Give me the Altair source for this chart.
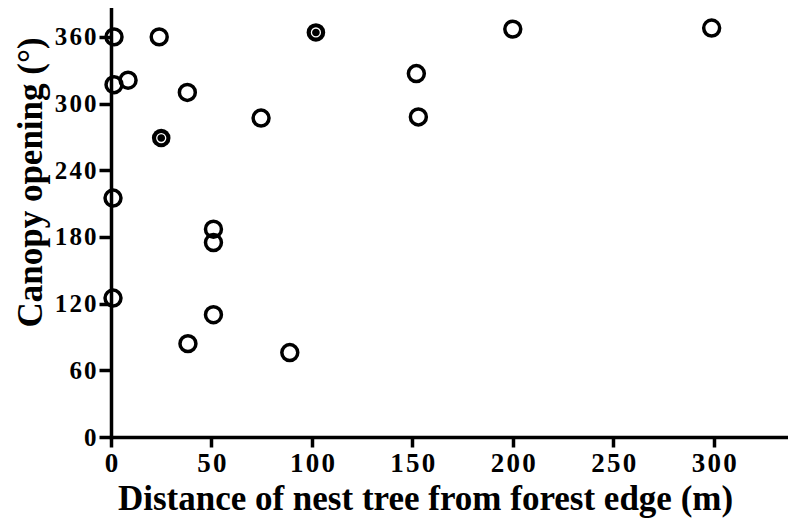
import altair as alt
import pandas as pd

# Data
dist = [1.5, 24, 1.5, 8.5, 38, 74.7, 152, 153, 200, 299, 1, 51, 51, 1, 51, 38.3, 89]
canopy = [360, 360, 317, 321, 310, 287, 327, 288, 367, 368, 215, 187, 175, 125, 110, 84, 76]
dist_double = [25, 102]
canopy_double = [269, 364]
x_ticks = [0, 50, 100, 150, 200, 250, 300]
y_ticks = [0, 60, 120, 180, 240, 300, 360]

df = pd.DataFrame({"dist": dist, "canopy": canopy})
dd = pd.DataFrame({"dist": dist_double, "canopy": canopy_double})

FONT = "Liberation Serif"
xs = alt.Scale(domain=[0, 337], nice=False, zero=False)
ys = alt.Scale(domain=[0, 386], nice=False, zero=False)
spaced = "join(split(datum.label, ''), '\u200a')"

x_axis = alt.Axis(
    values=x_ticks, grid=False,
    title="Distance of nest tree from forest edge (m)",
    domainColor="black", domainWidth=3.5, domainCap="square",
    tickColor="black", tickWidth=3.5, tickSize=10,
    labelPadding=3, labelFont=FONT, labelFontWeight="bold", labelFontSize=27,
    labelColor="black", labelExpr=spaced, labelFlush=False, labelOverlap=False,
    titleFont=FONT, titleFontWeight="bold", titleFontSize=35, titleColor="black",
    titleX=314, titleY=72, titleAlign="center", titleBaseline="alphabetic",
)
y_axis = alt.Axis(
    values=y_ticks, grid=False,
    title="Canopy opening (°)",
    domainColor="black", domainWidth=3.5, domainCap="square",
    tickColor="black", tickWidth=3.5, tickSize=12,
    labelPadding=3, labelFont=FONT, labelFontWeight="bold", labelFontSize=25,
    labelColor="black", labelExpr=spaced, labelFlush=False, labelOverlap=False,
    titleFont=FONT, titleFontWeight="bold", titleFontSize=35, titleColor="black",
    titleX=-70, titleY=174, titleAngle=270, titleAlign="center", titleBaseline="alphabetic",
)

base = alt.Chart(df).mark_point(
    shape="circle", filled=False, stroke="black", strokeWidth=3.5, size=254, opacity=1
).encode(
    x=alt.X("dist:Q", scale=xs, axis=x_axis),
    y=alt.Y("canopy:Q", scale=ys, axis=y_axis),
)

outer = alt.Chart(dd).mark_point(
    shape="circle", filled=True, fill="black", size=346, strokeWidth=0, opacity=1
).encode(
    x=alt.X("dist:Q", scale=xs),
    y=alt.Y("canopy:Q", scale=ys),
)

ring = alt.Chart(dd).mark_point(
    shape="circle", filled=False, stroke="white", strokeWidth=1.3, size=80, opacity=1
).encode(
    x=alt.X("dist:Q", scale=xs),
    y=alt.Y("canopy:Q", scale=ys),
)

chart = alt.layer(base, outer, ring).properties(
    width=677, height=429,
    autosize=alt.AutoSizeParams(type="none"),
    padding={"left": 103, "top": 0, "right": 0, "bottom": 81},
    background="white",
).configure_view(stroke=None)

chart.save("out.html", embed_options={"renderer": "svg", "actions": False})
